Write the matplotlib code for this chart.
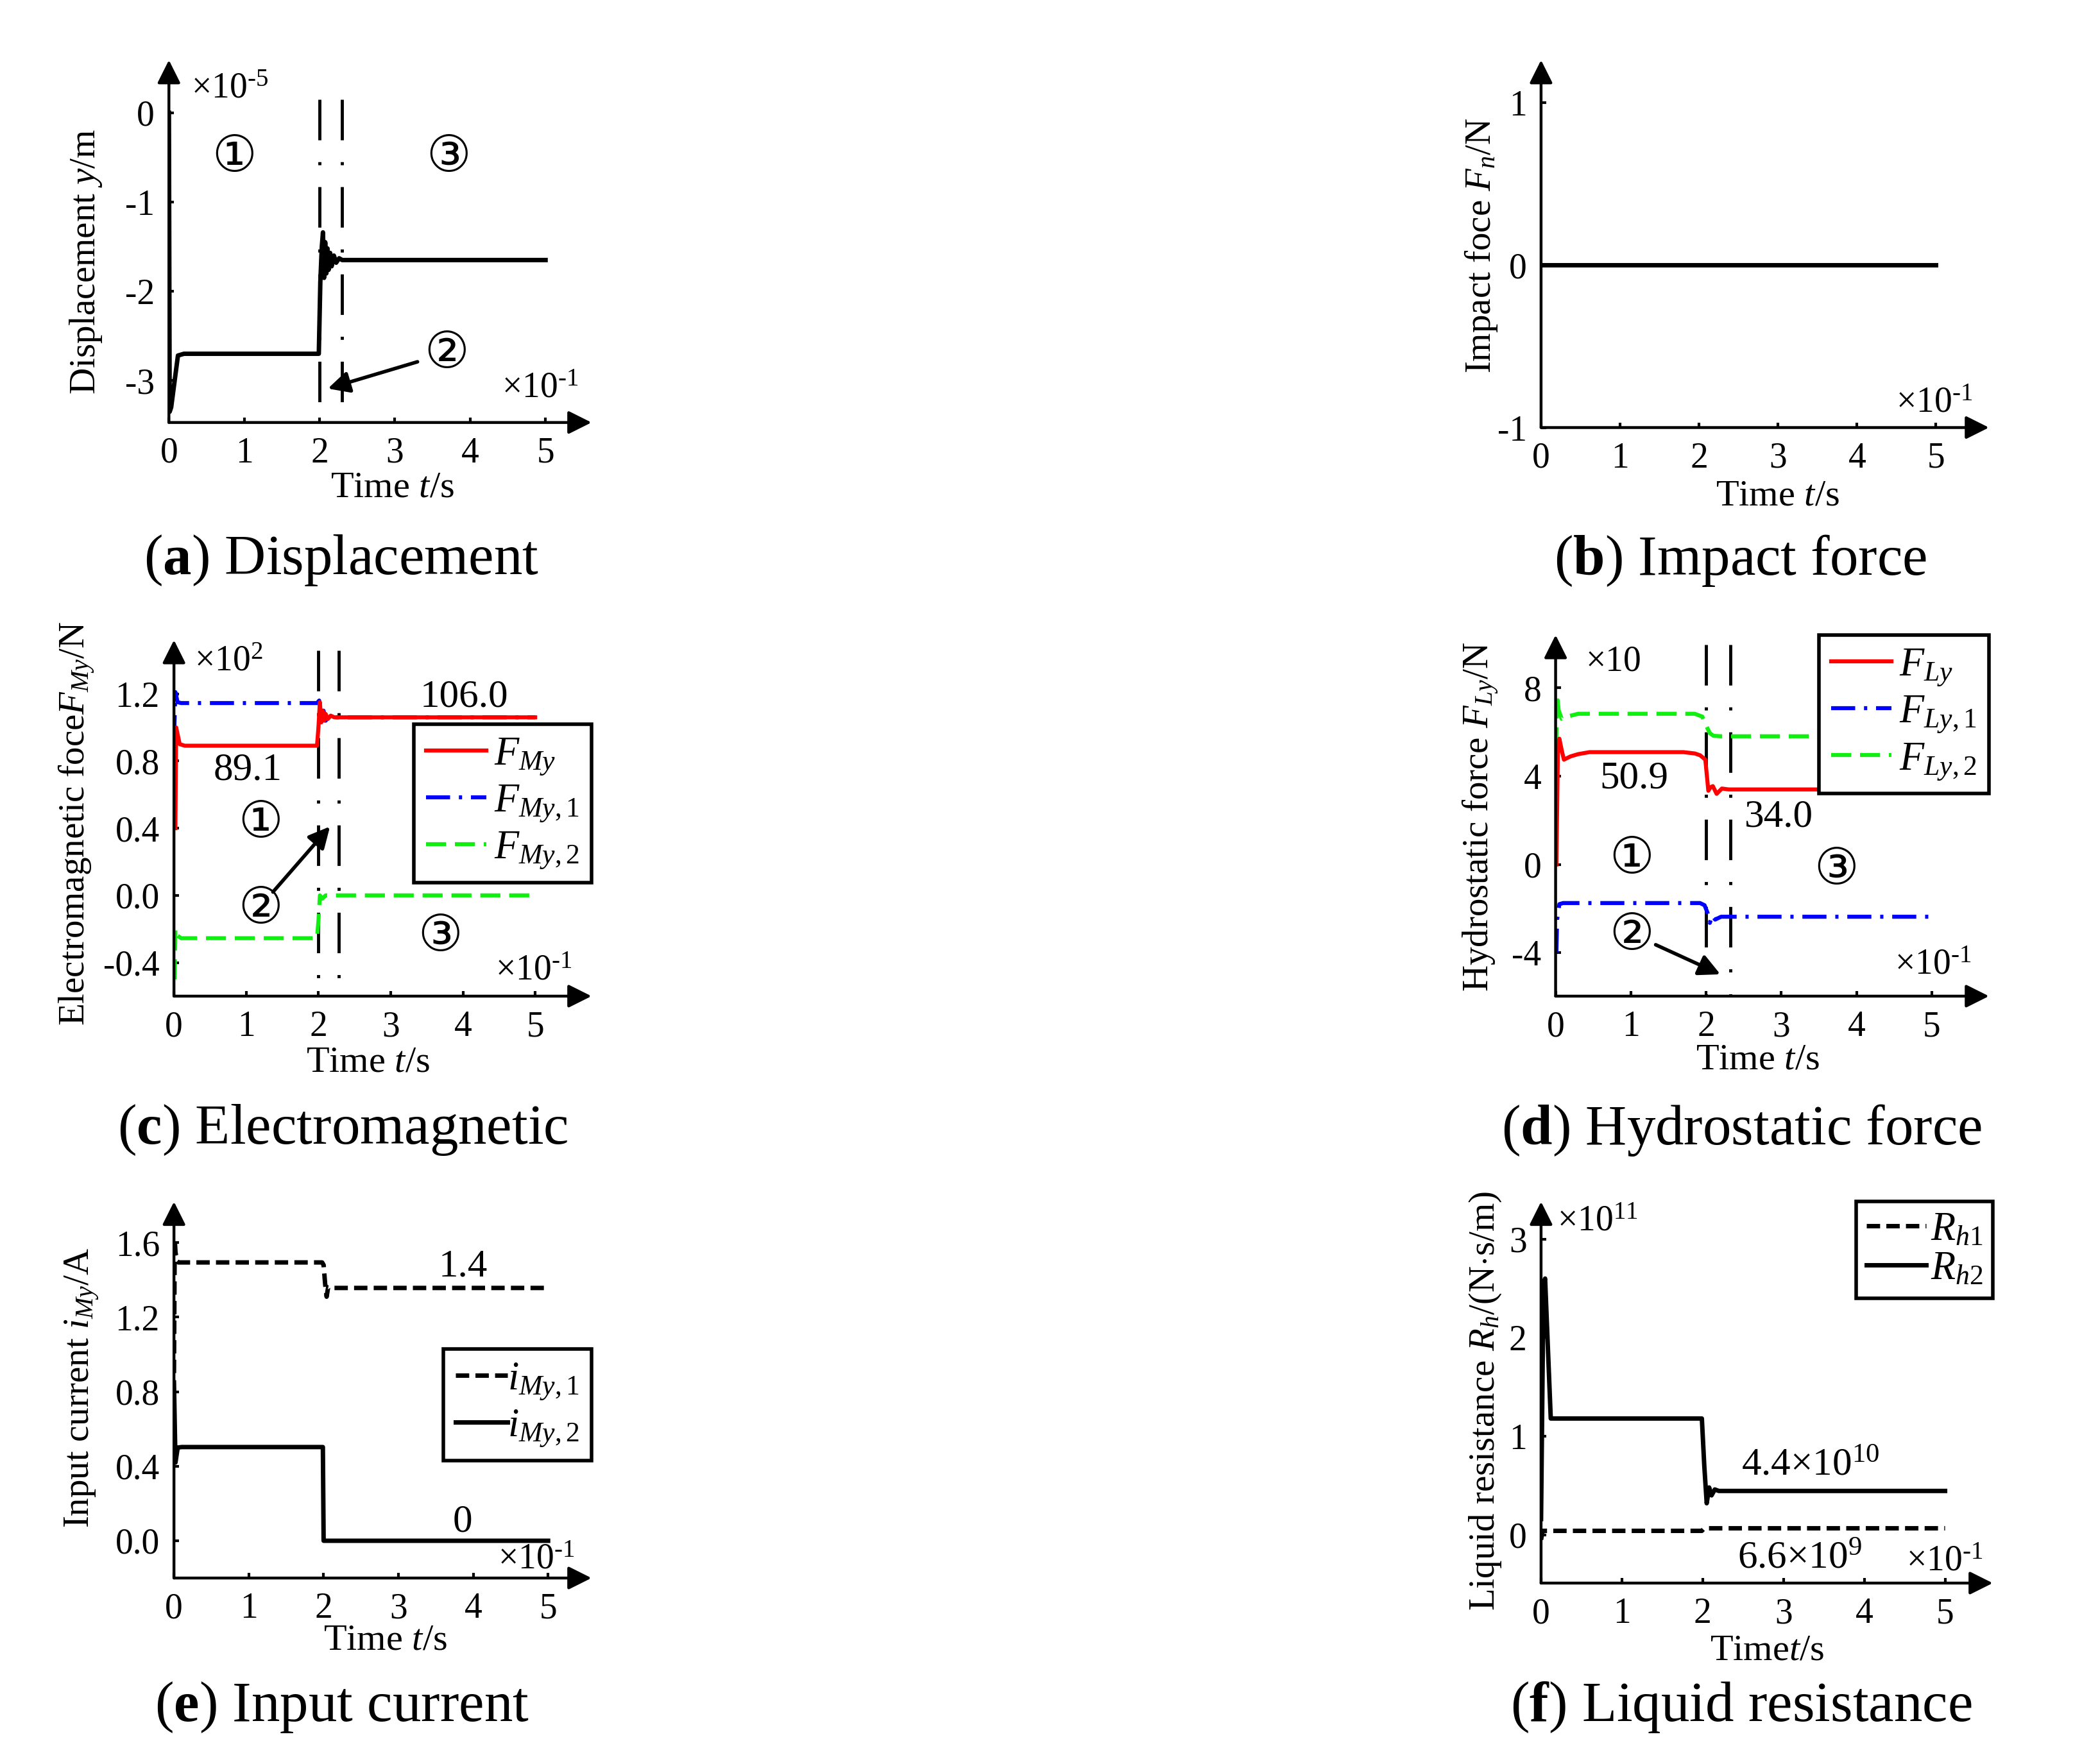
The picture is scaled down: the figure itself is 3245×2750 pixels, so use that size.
import numpy as np
import matplotlib
matplotlib.use('Agg')
import matplotlib.pyplot as plt

plt.rcParams['font.family'] = ['Liberation Serif', 'DejaVu Sans']
plt.rcParams['mathtext.fontset'] = 'custom'
plt.rcParams['mathtext.rm'] = 'Liberation Serif'
plt.rcParams['mathtext.it'] = 'Liberation Serif:italic'
plt.rcParams['mathtext.bf'] = 'Liberation Serif:bold'
plt.rcParams['axes.unicode_minus'] = False

# ---- data (time in units of 1e-1 s) ----
# (a) displacement, x1e-5 m
t_disp = [0, 0.01, 0.03, 0.12, 0.2, 1.99, 2.01, 2.03, 2.045, 2.06, 2.075, 2.09,
          2.105, 2.12, 2.14, 2.16, 2.19, 2.22, 2.26, 2.3, 5.0]
y_disp = [0, -3.35, -3.3, -2.72, -2.7, -2.7, -1.9, -1.5, -1.34, -1.85, -1.45, -1.8,
          -1.52, -1.76, -1.57, -1.72, -1.6, -1.68, -1.63, -1.65, -1.65]

# (b) impact force, N
t_imp = [0, 5.0]
f_imp = [0, 0]

# (c) electromagnetic force, x1e2 N
t_fmy = [0.02, 0.03, 0.05, 0.08, 0.15, 1.98, 2.0, 2.02, 2.04, 2.06, 2.08, 2.1, 2.13, 2.17, 2.22, 5.0]
f_my = [0.40, 1.00, 0.96, 0.90, 0.891, 0.891, 1.0, 1.15, 1.03, 1.10, 1.04, 1.08, 1.05, 1.07, 1.06, 1.06]
t_fmy1 = [0, 0.02, 0.05, 0.1, 1.98, 2.01, 2.04, 2.07, 2.1, 2.15, 2.22, 5.0]
f_my1 = [0.93, 1.21, 1.15, 1.145, 1.145, 1.16, 1.03, 1.10, 1.04, 1.07, 1.06, 1.06]
t_fmy2 = [0.01, 0.02, 0.05, 0.1, 1.98, 2.0, 2.02, 2.05, 2.1, 5.0]
f_my2 = [-0.50, -0.20, -0.24, -0.255, -0.255, -0.15, 0.0, -0.02, 0.0, 0.0]

# (d) hydrostatic force, x10 N
t_fly = [0.01, 0.03, 0.05, 0.08, 0.11, 0.2, 0.3, 0.45, 1.7, 1.85, 1.92, 1.99, 2.03, 2.06,
         2.09, 2.14, 2.21, 2.3, 5.0]
f_ly = [0, 5.0, 5.7, 5.2, 4.75, 4.9, 5.0, 5.09, 5.09, 5.03, 4.95, 4.75, 3.34, 3.5,
        3.55, 3.2, 3.44, 3.40, 3.40]
t_fly1 = [0.01, 0.02, 0.05, 0.1, 1.92, 1.98, 2.02, 2.05, 2.08, 2.12, 2.2, 5.0]
f_ly1 = [-4.0, -2.5, -1.8, -1.75, -1.75, -1.85, -2.2, -2.65, -2.3, -2.5, -2.37, -2.37]
t_fly2 = [0, 0.02, 0.04, 0.08, 0.15, 0.3, 1.85, 1.95, 2.0, 2.05, 2.1, 2.2, 5.0]
f_ly2 = [4.0, 7.7, 7.0, 6.6, 6.7, 6.83, 6.83, 6.7, 6.3, 5.95, 5.83, 5.81, 5.81]

# (e) input current, A
t_i1 = [0, 0.01, 0.02, 0.04, 0.06, 1.98, 2.0, 2.02, 2.04, 2.06, 2.1, 5.0]
i_my1 = [0.9, 1.62, 1.55, 1.5, 1.494, 1.494, 1.48, 1.38, 1.31, 1.36, 1.357, 1.357]
t_i2 = [0, 0.02, 0.05, 0.1, 1.99, 2.0, 5.0]
i_my2 = [0.85, 0.42, 0.50, 0.503, 0.503, 0.0, 0.0]

# (f) liquid resistance, x1e11 N.s/m
t_rh1 = [0, 0.02, 0.05, 1.99, 2.02, 5.0]
r_h1 = [-0.05, 0.04, 0.04, 0.04, 0.066, 0.066]
t_rh2 = [0, 0.03, 0.05, 0.12, 0.15, 1.99, 2.02, 2.05, 2.08, 2.11, 2.15, 2.2, 5.0]
r_h2 = [0.16, 2.55, 2.6, 1.18, 1.18, 1.18, 0.7, 0.32, 0.48, 0.40, 0.46, 0.445, 0.445]

# stage boundaries
stage_a = [2.0, 2.3]
stage_c = [2.0, 2.28]
stage_d = [2.0, 2.32]

W, H = 3245, 2750
K = 0.986          # screen-reading correction for all pixel positions below
RED, BLUE, GREEN = '#ff0000', '#0000ff', '#11ee11'
FS = 40
LFS = 45
DASHDOT = (0, (6, 2.2, 0.8, 2.2))
DASH = (0, (5, 2.2))
KDASH = (0, (3, 1.4))
VLINE = (0, (13, 7, 1, 7))

fig = plt.figure(figsize=(W / 100, H / 100), dpi=100)


def px(x, y):
    return K * x / W, 1 - K * y / H


def make_axes(rect, xmax, ylim, yticks, ylabels):
    l, t, r, b = [K * v for v in rect]
    ax = fig.add_axes([l / W, 1 - b / H, (r - l) / W, (b - t) / H])
    ax.set_xlim(0, xmax)
    ax.set_ylim(*ylim)
    for s in ax.spines.values():
        s.set_visible(False)
    ax.set_xticks(range(6))
    ax.set_xticklabels([str(i) for i in range(6)], fontsize=FS)
    ax.set_yticks(yticks)
    ax.set_yticklabels(ylabels, fontsize=FS)
    ax.tick_params(direction='in', length=6, width=3, pad=16)
    arr = dict(arrowstyle='-|>', lw=3.2, color='k', mutation_scale=55,
               shrinkA=0, shrinkB=0)
    ax.annotate('', xy=(1, 0), xytext=(0, 0), xycoords='axes fraction', arrowprops=arr)
    ax.annotate('', xy=(0, 1), xytext=(0, 0), xycoords='axes fraction', arrowprops=arr)
    ax.patch.set_visible(False)
    return ax


def circled(ax, x, y, s):
    ax.text(x, y, s, fontsize=56, ha='center', va='center', family=['DejaVu Sans'])


def pointer(ax, tail, head):
    ax.annotate('', xy=head, xytext=tail,
                arrowprops=dict(arrowstyle='-|>', lw=4, color='k', mutation_scale=50,
                                shrinkA=0, shrinkB=0))


def stage_lines(ax, xs, ytop):
    for x in xs:
        ax.plot([x, x], [ytop, ax.get_ylim()[0]], color='k', lw=3.5, ls=VLINE)


def boxed_legend(ax, anchor, handles=None, labels=None, **kw):
    if handles is None:
        handles, labels = ax.get_legend_handles_labels()
    leg = ax.legend(handles, labels, loc='upper right', bbox_to_anchor=anchor,
                    fontsize=LFS, frameon=True, fancybox=False, framealpha=1,
                    borderaxespad=0, **kw)
    leg.get_frame().set_edgecolor('k')
    leg.get_frame().set_linewidth(4)
    return leg


SUP_M1 = r'$^{\text{-1}}$'

# ---------------- (a) ----------------
ax = make_axes((267, 95, 935, 668), 5.61, (-3.47, 0.59), [0, -1, -2, -3], ['0', '-1', '-2', '-3'])
stage_lines(ax, stage_a, 0.15)
ax.plot(t_disp, y_disp, color='k', lw=5)
circled(ax, 0.87, -0.5, '①')
circled(ax, 3.71, -0.5, '③')
circled(ax, 3.69, -2.70, '②')
pointer(ax, (3.30, -2.79), (2.11, -3.09))
ax.text(0.3, 0.27, '×10' + r'$^{\text{-5}}$', fontsize=FS, va='center')
ax.text(4.42, -3.09, '×10' + SUP_M1, fontsize=FS, va='center')

# ---------------- (b) ----------------
ax = make_axes((2436, 95, 3144, 676), 5.67, (-1, 1.26), [1, 0, -1], ['1', '0', '-1'])
ax.plot(t_imp, f_imp, color='k', lw=5)
ax.text(4.49, -0.85, '×10' + SUP_M1, fontsize=FS, va='center')

# ---------------- (c) ----------------
ax = make_axes((275, 1012, 935, 1575), 5.78, (-0.6, 1.52),
               [1.2, 0.8, 0.4, 0.0, -0.4], ['1.2', '0.8', '0.4', '0.0', '-0.4'])
stage_lines(ax, stage_c, 1.46)
ax.plot(t_fmy2, f_my2, color=GREEN, lw=4.5, ls=DASH, label=r'$F_{My,\mathrm{2}}$')
ax.plot(t_fmy1, f_my1, color=BLUE, lw=4.5, ls=DASHDOT, label=r'$F_{My,\mathrm{1}}$')
ax.plot(t_fmy, f_my, color=RED, lw=4.5, label=r'$F_{My}$')
h, lb = ax.get_legend_handles_labels()
boxed_legend(ax, (1.0, 0.764), h[::-1], lb[::-1], handlelength=1.5,
             handletextpad=0.2, labelspacing=0.15, borderpad=0.3)
ax.text(4.02, 1.18, '106.0', fontsize=FS + 4, ha='center', va='center')
ax.text(1.02, 0.745, '89.1', fontsize=FS + 4, ha='center', va='center')
circled(ax, 1.2, 0.43, '①')
circled(ax, 1.2, -0.08, '②')
circled(ax, 3.69, -0.245, '③')
pointer(ax, (1.37, 0.02), (2.16, 0.41))
ax.text(0.28, 1.39, '×10$^{2}$', fontsize=FS, va='center')
ax.text(4.45, -0.45, '×10' + SUP_M1, fontsize=FS, va='center')

# ---------------- (d) ----------------
ax = make_axes((2459, 1004, 3144, 1575), 5.76, (-5.97, 10.4), [8, 4, 0, -4], ['8', '4', '0', '-4'])
stage_lines(ax, stage_d, 9.97)
ax.plot(t_fly2, f_ly2, color=GREEN, lw=4.5, ls=DASH, label=r'$F_{Ly,\mathrm{2}}$')
ax.plot(t_fly1, f_ly1, color=BLUE, lw=4.5, ls=DASHDOT, label=r'$F_{Ly,\mathrm{1}}$')
ax.plot(t_fly, f_ly, color=RED, lw=4.5, label=r'$F_{Ly}$')
h, lb = ax.get_legend_handles_labels()
boxed_legend(ax, (1.0, 1.0), h[::-1], lb[::-1], handlelength=1.5,
             handletextpad=0.2, labelspacing=0.15, borderpad=0.3)
ax.text(1.04, 3.9, '50.9', fontsize=FS + 4, ha='center', va='center')
ax.text(2.97, 2.14, '34.0', fontsize=FS + 4, ha='center', va='center')
circled(ax, 1.01, 0.24, '①')
circled(ax, 1.01, -3.2, '②')
circled(ax, 3.73, -0.25, '③')
pointer(ax, (1.33, -3.64), (2.19, -4.98))
ax.text(0.4, 9.2, '×10', fontsize=FS, va='center')
ax.text(4.51, -4.56, '×10' + SUP_M1, fontsize=FS, va='center')

# ---------------- (e) ----------------
ax = make_axes((275, 1900, 935, 2495), 5.58, (-0.2, 1.82),
               [1.6, 1.2, 0.8, 0.4, 0.0], ['1.6', '1.2', '0.8', '0.4', '0.0'])
ax.plot(t_i1, i_my1, color='k', lw=5, ls=KDASH, label=r'$i_{My,\mathrm{1}}$')
ax.plot(t_i2, i_my2, color='k', lw=5, label=r'$i_{My,\mathrm{2}}$')
boxed_legend(ax, (1.0, 0.609), handlelength=1.3, handletextpad=0.0,
             labelspacing=0.15, borderpad=0.3)
ax.text(3.86, 1.47, '1.4', fontsize=FS + 4, ha='center', va='center')
ax.text(3.86, 0.1, '0', fontsize=FS + 4, ha='center', va='center')
ax.text(4.33, -0.1, '×10' + SUP_M1, fontsize=FS, va='center')

# ---------------- (f) ----------------
ax = make_axes((2436, 1900, 3150, 2503), 5.59, (-0.49, 3.38), [3, 2, 1, 0], ['3', '2', '1', '0'])
ax.plot(t_rh1, r_h1, color='k', lw=5, ls=KDASH, label=r'$R_{h\mathrm{1}}$')
ax.plot(t_rh2, r_h2, color='k', lw=5, label=r'$R_{h\mathrm{2}}$')
boxed_legend(ax, (1.0, 1.0), handlelength=1.5, handletextpad=0.1,
             labelspacing=0.05, borderpad=0.25)
ax.text(2.48, 0.70, '4.4×10$^{10}$', fontsize=FS + 4, va='center')
ax.text(2.43, -0.24, '6.6×10$^{9}$', fontsize=FS + 4, va='center')
ax.text(0.2, 3.18, '×10$^{11}$', fontsize=FS, va='center')
ax.text(4.52, -0.27, '×10' + SUP_M1, fontsize=FS, va='center')

# ---------------- axis labels ----------------
xlabels = [((620, 771), 'Time $t$/s'), ((2810, 784), 'Time $t$/s'),
           ((582, 1680), 'Time $t$/s'), ((2778, 1676), 'Time $t$/s'),
           ((609, 2594), 'Time $t$/s'), ((2793, 2610), 'Time$t$/s')]
for (x, y), s in xlabels:
    fig.text(*px(x, y), s, fontsize=FS + 2, ha='center', va='center')

ylabels = [((136, 414), 'Displacement $y$/m'),
           ((2341, 388), 'Impact foce $F_n$/N'),
           ((122, 1302), 'Electromagnetic foce$F_{My}$/N'),
           ((2341, 1291), 'Hydrostatic force $F_{Ly}$/N'),
           ((130, 2194), 'Input current $i_{My}$/A'),
           ((2348, 2215), r'Liquid resistance $R_h$/(N$\cdot$s/m)')]
for (x, y), s in ylabels:
    fig.text(*px(x, y), s, fontsize=FS + 1, ha='center', va='center', rotation=90)

captions = [((540, 886), r'($\mathbf{a}$) Displacement'),
            ((2751, 886), r'($\mathbf{b}$) Impact force'),
            ((542, 1787), r'($\mathbf{c}$) Electromagnetic'),
            ((2753, 1787), r'($\mathbf{d}$) Hydrostatic force'),
            ((540, 2699), r'($\mathbf{e}$) Input current'),
            ((2752, 2699), r'($\mathbf{f}$) Liquid resistance')]
for (x, y), s in captions:
    fig.text(*px(x, y), s, fontsize=64, ha='center', va='center')

fig.savefig('out.png', dpi=100, facecolor='white')
